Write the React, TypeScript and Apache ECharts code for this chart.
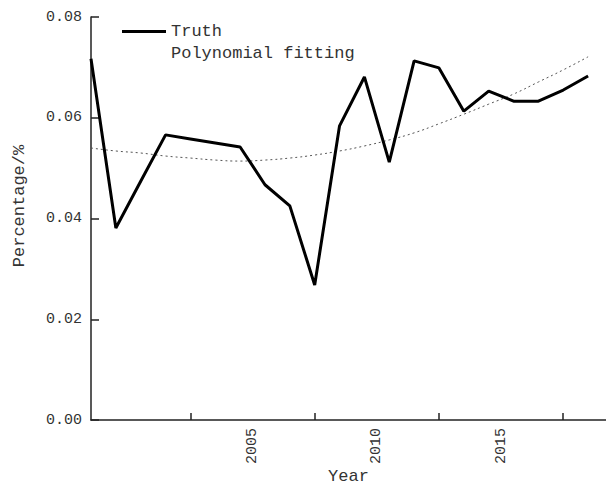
import React, { useEffect, useRef } from "react";
import * as echarts from "echarts";

const years = [1998, 1999, 2000, 2001, 2002, 2003, 2004, 2005, 2006, 2007, 2008, 2009, 2010, 2011, 2012, 2013, 2014, 2015, 2016, 2017, 2018];
const truth = [0.0717, 0.0381, 0.0474, 0.0566, 0.0558, 0.0550, 0.0542, 0.0467, 0.0425, 0.0268, 0.0584, 0.0681, 0.0512, 0.0713, 0.0699, 0.0613, 0.0653, 0.0633, 0.0633, 0.0655, 0.0683];
const fitting = [0.0540, 0.0534, 0.0530, 0.0524, 0.0520, 0.0516, 0.0514, 0.0516, 0.0520, 0.0526, 0.0534, 0.0544, 0.0556, 0.0570, 0.0588, 0.0607, 0.0627, 0.0647, 0.0671, 0.0695, 0.0721];
const xTickYears = [2002, 2007, 2012, 2017];
const xLabelYears = [2004.5, 2009.5, 2014.5];
const xLabelTexts = ["2005", "2010", "2015"];
const yTicks = [0, 0.02, 0.04, 0.06, 0.08];

const FONT = "Liberation Mono";
const TEXT = "#333";

export default function App() {
  const ref = useRef<HTMLDivElement>(null);
  useEffect(() => {
    if (!ref.current) return;
    const chart = echarts.init(ref.current, null, { renderer: "svg" });
    chart.setOption({
      animation: false,
      backgroundColor: "#fff",
      grid: { left: 91, top: 17, right: 0, bottom: 68, containLabel: false, outerBoundsMode: "none" },
      legend: {
        orient: "vertical",
        left: 117,
        top: 18,
        icon: "rect",
        itemWidth: 44,
        itemHeight: 3,
        itemGap: 5,
        textStyle: { fontFamily: FONT, fontSize: 17, color: TEXT },
        data: [
          { name: "Truth", itemStyle: { color: "#000" } },
          { name: "Polynomial fitting", itemStyle: { opacity: 0 } },
        ],
      },
      xAxis: {
        type: "value",
        min: years[0],
        max: 2018.72,
        name: "Year",
        nameLocation: "middle",
        nameGap: 48,
        nameMoveOverlap: false,
        nameTextStyle: { fontFamily: FONT, fontSize: 17, color: TEXT },
        axisLine: { show: true, lineStyle: { color: "#222", width: 1.5 } },
        axisTick: { show: true, inside: true, length: 7, customValues: xTickYears, lineStyle: { color: "#222", width: 1.5 } },
        axisLabel: {
          show: true,
          customValues: xLabelYears,
          rotate: 90,
          margin: 8,
          fontFamily: FONT,
          fontSize: 15,
          color: TEXT,
          formatter: (v: number) => {
            const i = xLabelYears.indexOf(v);
            return i >= 0 ? xLabelTexts[i] : "";
          },
        },
        splitLine: { show: false },
      },
      yAxis: {
        type: "value",
        min: 0,
        max: 0.08,
        interval: 0.02,
        axisLine: { show: true, lineStyle: { color: "#222", width: 1.5 } },
        axisTick: { show: true, inside: true, length: 8, customValues: yTicks, lineStyle: { color: "#222", width: 1.5 } },
        axisLabel: {
          margin: 9,
          fontFamily: FONT,
          fontSize: 15,
          color: TEXT,
          formatter: (v: number) => v.toFixed(2),
        },
        splitLine: { show: false },
      },
      graphic: [
        {
          type: "text",
          x: 19,
          y: 206,
          rotation: Math.PI / 2,
          style: {
            text: "Percentage/%",
            fontFamily: FONT,
            fontSize: 17,
            fill: TEXT,
            align: "center",
            verticalAlign: "middle",
          },
        },
      ],
      series: [
        {
          name: "Truth",
          type: "line",
          symbol: "none",
          data: years.map((y, i) => [y, truth[i]]),
          lineStyle: { color: "#000", width: 3 },
          itemStyle: { color: "#000" },
          z: 3,
        },
        {
          name: "Polynomial fitting",
          type: "line",
          symbol: "none",
          smooth: true,
          data: years.map((y, i) => [y, fitting[i]]),
          lineStyle: { color: "#555", width: 1, type: [2, 3] },
          itemStyle: { color: "#555" },
          z: 2,
        },
      ],
    });
    return () => chart.dispose();
  }, []);
  return <div ref={ref} style={{ position: "fixed", left: 0, top: 0, width: 606, height: 488 }} />;
}
